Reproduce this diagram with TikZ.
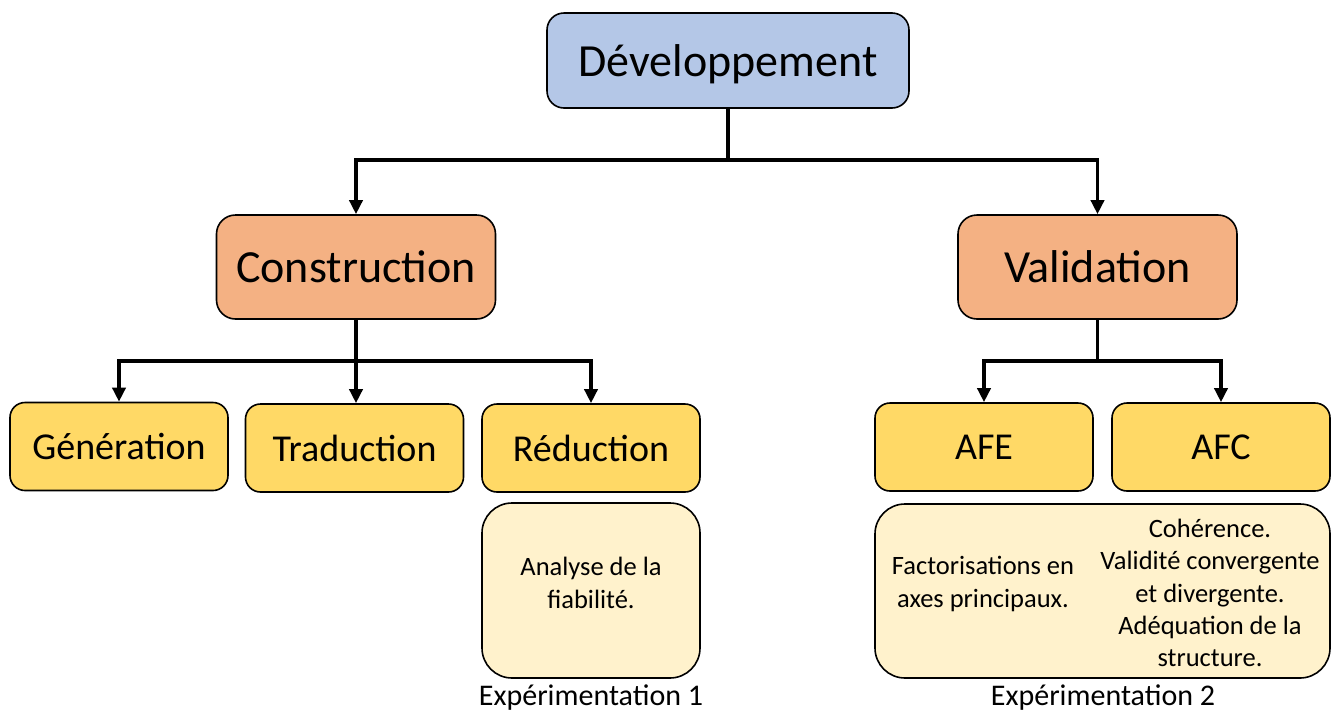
\documentclass[tikz,border=0pt]{standalone}
\usepackage{fontspec}
\setmainfont{Carlito}
\usetikzlibrary{arrows.meta}
\definecolor{cblue}{HTML}{B4C7E7}
\definecolor{corange}{HTML}{F4B183}
\definecolor{cyellow}{HTML}{FFD966}
\definecolor{clight}{HTML}{FFF2CC}
\tikzset{
  box/.style={draw=black, line width=1.6pt, inner sep=0pt, align=center},
  topbox/.style={box, fill=cblue, rounded corners=17pt, minimum width=362pt, minimum height=95pt, font=\fontsize{46}{52}\selectfont, text depth=0pt},
  midbox/.style={box, fill=corange, rounded corners=19pt, minimum width=279pt, minimum height=104pt, font=\fontsize{46}{52}\selectfont},
  lowbox/.style={box, fill=cyellow, rounded corners=15pt, minimum width=218pt, minimum height=88pt, font=\fontsize{38}{44}\selectfont},
  notebox/.style={box, fill=clight, rounded corners=30pt},
  notetext/.style={inner sep=0pt, align=center, font=\fontsize{26.5}{32.3}\selectfont},
  captext/.style={inner sep=0pt, font=\fontsize{30}{36}\selectfont},
  conn/.style={line width=3.6pt, draw=black},
  arr/.style={conn, -{Triangle[length=14pt,width=13pt]}},
}
\begin{document}
\begin{tikzpicture}[x=1pt,y=-1pt]
\useasboundingbox (0,0) rectangle (1331,713);
% nodes
\node[topbox] (dev) at (728,60.5) {Développement};
\node[midbox] (cons) at (356,267) {Construction};
\node[midbox] (val) at (1097.5,267) {Validation};
\node[lowbox] (gen) at (119,446.5) {Génération};
\node[lowbox] (trad) at (354.5,448) {Traduction};
\node[lowbox] (red) at (591,448) {Réduction};
\node[lowbox] (afe) at (984,447) {AFE};
\node[lowbox] (afc) at (1221,447) {AFC};
\node[notebox, minimum width=218pt, minimum height=175pt] (rel) at (591,590.5) {};
\node[notetext] (reltxt) at (591,583) {Analyse de la\\fiabilité.};
\node[notebox, minimum width=455pt, minimum height=174pt] (big) at (1102.5,591) {};
\node[notetext] (factxt) at (983,584) {Factorisations en\\axes principaux.};
\node[notetext] (afctxt) at (1210,593) {Cohérence.\\Validité convergente\\et divergente.\\Adéquation de la\\structure.};
\node[captext, anchor=base] (exp1) at (591,705.5) {Expérimentation 1};
\node[captext, anchor=base] (exp2) at (1103,705.5) {Expérimentation 2};
% junctions
\coordinate (j1) at (728,160);
\coordinate (j2) at (356,361);
\coordinate (j3) at (1097.5,361);
% connectors
\draw[conn] (dev.south) -- (j1);
\draw[arr] (j1) -| (cons.north);
\draw[arr] (j1) -| (val.north);
\draw[conn] (cons.south) -- (j2);
\draw[arr] (j2) -| (gen.north);
\draw[arr] (j2) -| (red.north);
\draw[arr] (j2) -- (trad.north -| j2);
\draw[conn] (val.south) -- (j3);
\draw[arr] (j3) -| (afe.north);
\draw[arr] (j3) -| (afc.north);
\end{tikzpicture}
\end{document}
